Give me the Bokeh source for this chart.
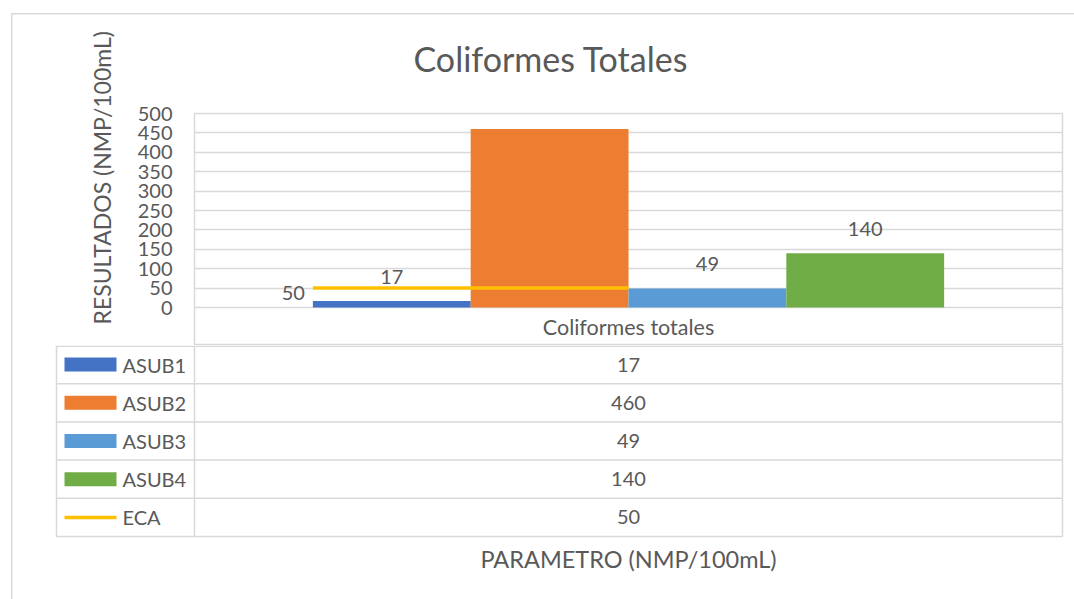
from bokeh.plotting import figure
from bokeh.layouts import column
from bokeh.models import Range1d, FactorRange, FixedTicker, ColumnDataSource, Title
from bokeh.transform import dodge
from bokeh.core.properties import value
from bokeh.embed import file_html
from bokeh.resources import INLINE

# ---------------- data ----------------
title_text = "Coliformes Totales"
categories = ["Coliformes totales"]
series_names = ["ASUB1", "ASUB2", "ASUB3", "ASUB4"]
series_values = [17, 460, 49, 140]
series_colors = ["#4472C4", "#ED7D31", "#5B9BD5", "#70AD47"]
eca_name = "ECA"
eca_value = 50
eca_color = "#FFC000"
y_ticks = [0, 50, 100, 150, 200, 250, 300, 350, 400, 450, 500]
y_title = "RESULTADOS (NMP/100mL)"
x_title = "PARAMETRO (NMP/100mL)"

# ---------------- style / layout (page pixels) ----------------
FONT = "Lato"
TXT = "#595959"
GRID = "#d9d9d9"
GAP = 1.5                      # Excel gap width 150%
n = len(series_names)
bw = 1.0 / (n + GAP)           # bar width in category units

W = 1074
PLOT_L, PLOT_R = 194, 1062
PLOT_T, ZERO_Y, HEAD_B = 113, 307, 345
PAGE_H = 599
# the header row of the data table lies under the value zero, inside the frame
y_lo = -y_ticks[-1] * (HEAD_B - ZERO_Y) / (ZERO_Y - PLOT_T)

# ---------------- chart figure ----------------
p = figure(width=W, height=HEAD_B, x_range=FactorRange(*categories),
           y_range=Range1d(y_lo, y_ticks[-1]),
           output_backend="svg", toolbar_location=None, x_axis_location=None,
           min_border_left=PLOT_L, min_border_right=W - PLOT_R,
           min_border_top=PLOT_T, min_border_bottom=0, frame_align=False)
p.border_fill_color = None
p.outline_line_color = GRID
p.outline_line_width = 1.5
p.xgrid.grid_line_color = None
p.ygrid.grid_line_color = GRID
p.ygrid.grid_line_width = 1.5
p.yaxis.ticker = FixedTicker(ticks=y_ticks)
p.yaxis.axis_line_color = None
p.yaxis.major_tick_line_color = None
p.yaxis.minor_tick_line_color = None
p.yaxis.major_tick_out = 0
p.yaxis.major_label_standoff = 22
p.yaxis.major_label_text_font = FONT
p.yaxis.major_label_text_font_size = "20px"
p.yaxis.major_label_text_color = TXT

p.title.text = title_text
p.title.align = "left"
p.title.offset = 219
p.title.text_font = FONT
p.title.text_font_size = "34px"
p.title.text_font_style = "normal"
p.title.text_color = TXT
p.title.standoff = 70

p.add_layout(Title(text=y_title, align="left", offset=21, standoff=36,
                   vertical_align="middle", text_font=FONT, text_font_size="23px",
                   text_font_style="normal", text_color=TXT), "left")

for i, (name, val, col) in enumerate(zip(series_names, series_values, series_colors)):
    off = (i - (n - 1) / 2) * bw
    src = ColumnDataSource(dict(cat=categories, val=[val], lbl=[str(val)]))
    p.vbar(x=dodge("cat", off, range=p.x_range), top="val", bottom=0, width=bw,
           source=src, fill_color=col, line_color=None)
    p.text(x=dodge("cat", off, range=p.x_range), y="val", text="lbl", source=src,
           text_align="center", text_baseline="middle", y_offset=-24,
           text_font=value(FONT), text_font_size="20px", text_color=TXT)

eca_src = ColumnDataSource(dict(cat=categories, val=[eca_value], lbl=[str(eca_value)]))
p.segment(x0=dodge("cat", -n / 2 * bw, range=p.x_range), y0="val",
          x1=dodge("cat", 0, range=p.x_range), y1="val", source=eca_src,
          line_color=eca_color, line_width=3.5)
p.text(x=dodge("cat", -n / 2 * bw, range=p.x_range), y="val", text="lbl", source=eca_src,
       text_align="right", text_baseline="middle", x_offset=-8, y_offset=5,
       text_font=value(FONT), text_font_size="20px", text_color=TXT)

# category name = header cell of the data table (under the zero line)
p.text(x=categories, y=[y_lo / 2], text=categories, text_align="center",
       text_baseline="middle", text_font=value(FONT), text_font_size="21.5px",
       text_color=TXT)

# ---------------- data table figure (page pixel coordinates) ----------------
TH = PAGE_H - HEAD_B
t = figure(width=W, height=TH, x_range=Range1d(0, W), y_range=Range1d(PAGE_H, HEAD_B),
           output_backend="svg", toolbar_location=None,
           x_axis_location=None, y_axis_location=None,
           min_border_left=0, min_border_right=0, min_border_top=0, min_border_bottom=0,
           frame_align=False)
t.border_fill_color = None
t.background_fill_color = None
t.outline_line_color = None
t.xgrid.visible = False
t.ygrid.visible = False

TL = 56
T_BOT = 536
row_names = series_names + [eca_name]
row_values = series_values + [eca_value]
row_colors = series_colors + [eca_color]
nr = len(row_names)
rh = (T_BOT - HEAD_B) / nr
cx = (PLOT_L + PLOT_R) / 2

hy = [HEAD_B + k * rh for k in range(nr + 1)]
hy[0] = HEAD_B + 0.75
t.segment(x0=[TL] * len(hy), x1=[PLOT_R] * len(hy), y0=hy, y1=hy, line_color=GRID, line_width=1.5)
t.segment(x0=[TL, PLOT_L, PLOT_R], x1=[TL, PLOT_L, PLOT_R], y0=[HEAD_B] * 3, y1=[T_BOT] * 3,
          line_color=GRID, line_width=1.5)

ry = [HEAD_B + (k + 0.5) * rh for k in range(nr)]
t.rect(x=[90] * n, y=ry[:n], width=52, height=14, fill_color=series_colors, line_color=None)
t.segment(x0=[64], x1=[116], y0=[ry[n]], y1=[ry[n]], line_color=eca_color, line_width=3.5)
t.text(x=[122] * nr, y=ry, text=row_names, text_align="left", text_baseline="middle",
       text_font=value(FONT), text_font_size="20px", text_color=TXT)
t.text(x=[cx] * nr, y=ry, text=[str(v) for v in row_values], text_align="center",
       text_baseline="middle", text_font=value(FONT), text_font_size="20px", text_color=TXT)
t.text(x=[cx], y=[558], text=[x_title], text_align="center", text_baseline="middle",
       text_font=value(FONT), text_font_size="23.5px", text_color=TXT)

# outer chart-area border (left and top edges; the others lie outside the window)
border_css = ("linear-gradient(#d9d9d9, #d9d9d9) 11px 13px / 1.5px calc(100% - 13px) no-repeat, "
              "linear-gradient(#d9d9d9, #d9d9d9) 11px 13px / calc(100% - 11px) 1.5px no-repeat")
layout = column(p, t, styles={"background": border_css})

open("out.html", "w").write(file_html(layout, INLINE))
